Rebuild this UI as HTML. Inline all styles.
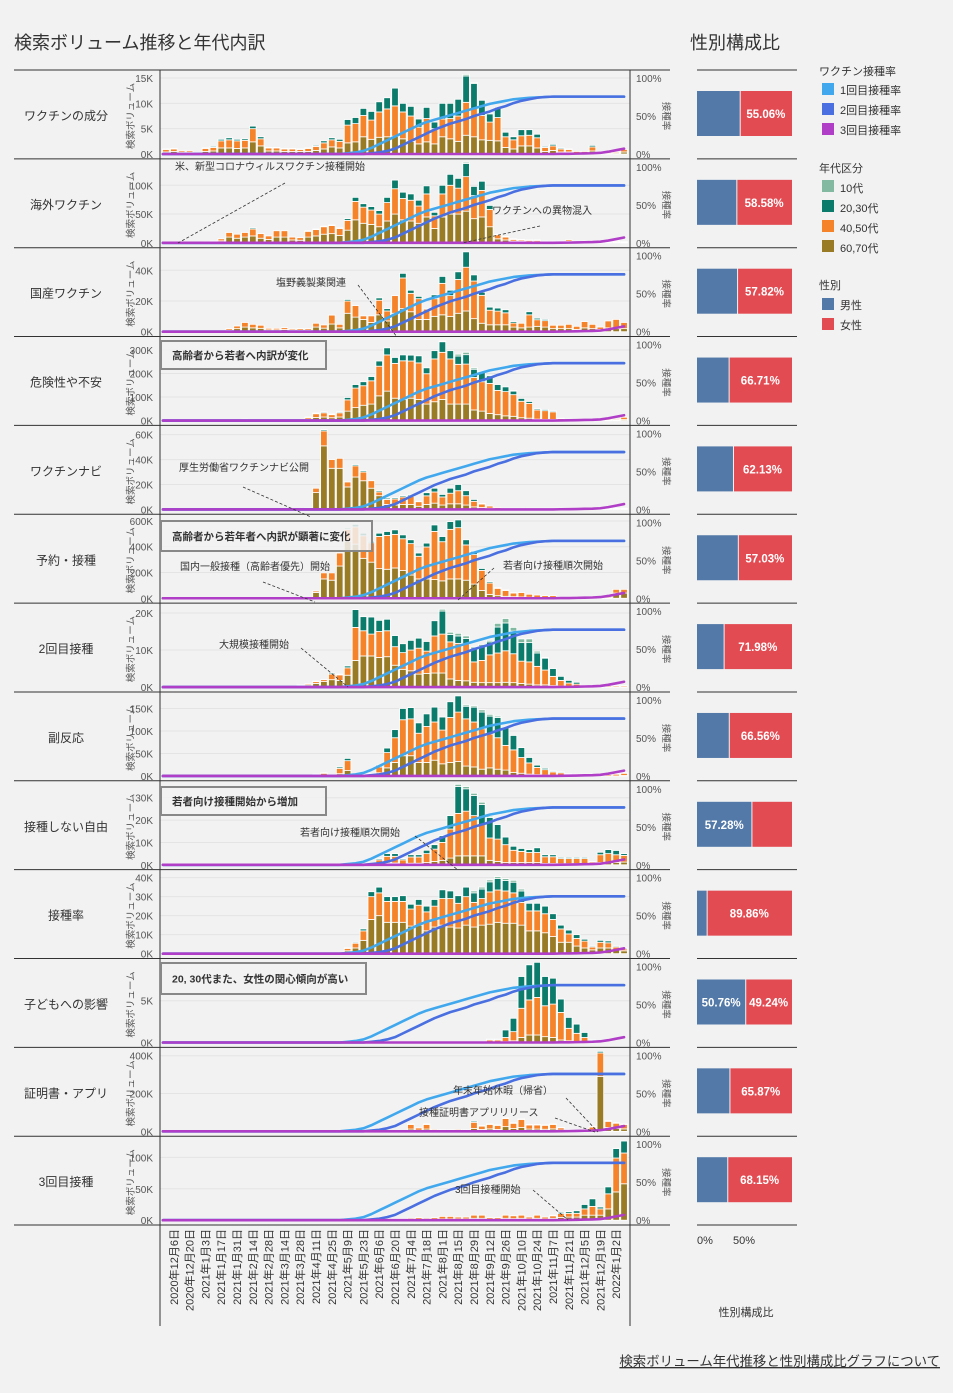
<!DOCTYPE html>
<html><head><meta charset="utf-8">
<style>
html,body{margin:0;padding:0;background:#f2f2f2;}
svg{display:block;font-family:"Liberation Sans","Noto Sans CJK JP",sans-serif;}
</style></head>
<body>
<svg id="chart" width="953" height="1393" viewBox="0 0 953 1393" xmlns="http://www.w3.org/2000/svg">
<rect x="0" y="0" width="953" height="1393" fill="#f2f2f2"/>
<text x="14" y="49" font-size="18" fill="#333">検索ボリューム推移と年代内訳</text>
<text x="690" y="49" font-size="18" fill="#333">性別構成比</text>
<g id="layer"></g>
<g font-size="11" fill="#333">
<text x="819" y="75">ワクチン接種率</text>
<rect x="822" y="83" width="12" height="12" fill="#41a8ee"/><text x="840" y="94">1回目接種率</text>
<rect x="822" y="103" width="12" height="12" fill="#4a6fe0"/><text x="840" y="114">2回目接種率</text>
<rect x="822" y="123" width="12" height="12" fill="#b03ec6"/><text x="840" y="134">3回目接種率</text>
<text x="819" y="172">年代区分</text>
<rect x="822" y="180" width="12" height="12" fill="#82b9a0"/><text x="840" y="192">10代</text>
<rect x="822" y="200" width="12" height="12" fill="#0b7b6b"/><text x="840" y="212">20,30代</text>
<rect x="822" y="220" width="12" height="12" fill="#f5832a"/><text x="840" y="232">40,50代</text>
<rect x="822" y="240" width="12" height="12" fill="#9a7b25"/><text x="840" y="252">60,70代</text>
<text x="819" y="289">性別</text>
<rect x="822" y="298" width="12" height="12" fill="#5279a8"/><text x="840" y="309">男性</text>
<rect x="822" y="318" width="12" height="12" fill="#e34b52"/><text x="840" y="329">女性</text>
</g>
<text x="697" y="1244" font-size="11" fill="#333">0%</text>
<text x="733" y="1244" font-size="11" fill="#333">50%</text>
<text x="746" y="1316" font-size="11" fill="#333" text-anchor="middle">性別構成比</text>
<text x="940" y="1366" font-size="13.4" fill="#333" text-anchor="end" text-decoration="underline">検索ボリューム年代推移と性別構成比グラフについて</text>
</svg>
<script>
// ---- data ----
const categories = ["ワクチンの成分","海外ワクチン","国産ワクチン","危険性や不安","ワクチンナビ","予約・接種","2回目接種","副反応","接種しない自由","接種率","子どもへの影響","証明書・アプリ","3回目接種"];
const dateLabels = ["2020年12月6日","2020年12月20日","2021年1月3日","2021年1月17日","2021年1月31日","2021年2月14日","2021年2月28日","2021年3月14日","2021年3月28日","2021年4月11日","2021年4月25日","2021年5月9日","2021年5月23日","2021年6月6日","2021年6月20日","2021年7月4日","2021年7月18日","2021年8月1日","2021年8月15日","2021年8月29日","2021年9月12日","2021年9月26日","2021年10月10日","2021年10月24日","2021年11月7日","2021年11月21日","2021年12月5日","2021年12月19日","2022年1月2日"];
const dose1 = [0,0,0,0,0,0,0,0,0,0, 0,0,0,0,0,0,0,0,0,0, 0,0,0,1,2,4,8,13,18,23, 28,33,38,42,45,48,51,54,57,60, 63,66,68,70,72,73,74,74.5,75,75.5, 75.5,75.5,75.5,75.5,75.5,75.5,75.5,75.5,75.5];
const dose2 = [0,0,0,0,0,0,0,0,0,0, 0,0,0,0,0,0,0,0,0,0, 0,0,0,0,0,0,1,2,4,7, 12,17,22,27,32,36,40,43,46,50, 53,56,60,63,67,70,72,74,75,75.5, 75.5,75.5,75.5,75.5,75.5,75.5,75.5,75.5,75.5];
const dose3 = [0,0,0,0,0,0,0,0,0,0, 0,0,0,0,0,0,0,0,0,0, 0,0,0,0,0,0,0,0,0,0, 0,0,0,0,0,0,0,0,0,0, 0,0,0,0,0,0,0,0,0,0, 0.2,0.3,0.5,0.8,1,1.5,3,5,7];
const panelMax = [15,132,49.5,323,61,590,20.5,169,34,40,9.1,402,121];
const panelTicks = [[0,5,10,15],[0,50,100],[0,20,40],[0,100,200,300],[0,20,40,60],[0,200,400,600],[0,10,20],[0,50,100,150],[0,10,20,30],[0,10,20,30,40],[0,5],[0,200,400],[0,50,100]];
const femalePct = [55.06,58.58,57.82,66.71,62.13,57.03,71.98,66.56,42.72,89.86,49.24,65.87,68.15];

const old1=[.4,.5,.3,.3,0,.5,.6,1.2,1.2,1.1, 1.2,2.4,1.6,.6,.6,.5,.5,.5,.5,.7, 1,1.4,1.2,2.2,2.4,3.4,2.9,3.3,3.4,3.5, 3,2.5,2,2.4,2,3.4,3,2.5,3.7,3.4, 2.8,2.7,2.6,1.3,1,1.6,1.6,1.2,.5,.7, .4,.4,.2,.2,.6,.2,.1,.2,.4];
const mid1=[.5,.5,.3,.3,.1,.6,.7,1.4,1.6,1.5, 1.5,2.6,1.4,.6,.6,.5,.5,.4,.6,.8, 1.2,1.4,1.3,3.5,3.6,4.2,3.8,5,5.5,6, 5.3,5,3.3,4.6,3,3.5,4,5,6.5,5.6, 4.8,3.6,4.6,2.1,1.8,2,2.1,2,.8,.9, .6,.5,.3,.3,.8,.3,.2,.2,.5];
const young1=[.1,.1,0,0,0,.1,.2,.3,.4,.3, .3,.5,.4,.1,.1,.1,.1,.1,.1,.2, .4,.4,.4,1.1,1.2,1.4,1.7,2,2.2,3.5, 1.7,1.9,1.6,2.2,1.3,3.1,3,3.3,5.2,4.9, 3,1.6,2,.9,.6,1.2,1.1,.7,.2,.3, .2,.1,0,0,.3,0,0,0,0];
const teen1=[0,0,0,0,0,0,0,0,0,0, 0,0,0,0,0,0,0,0,0,0, 0,0,0,0,0,0,0,0,0,0, 0,0,0,0,0,0,0,0,.3,.2, 0,0,0,0,0,0,0,0,0,0, 0,0,0,0,0,0,0,0,0];

const old2=[.3,.3,0,0,.5,1,1.5,3.5,10,8, 10,12,8,6,10,10,5,4.5,10,12, 15,16,13,22,40,34,32,28,38,50, 40,38,34,45,25,45,50,50,55,42, 45,28,7,5,3,3,2,2,1.5,1.5, 1.5,2.5,1.5,1.5,1.5,1,1,1.5,1];
const mid2=[.2,.2,0,0,.5,1,1.5,3.5,8,7, 8,12,8,6,11,11,5,4.5,10,11, 13,14,12,17,32,28,25,22,32,44, 37,36,30,40,22,40,50,45,60,40, 46,30,7,5,3,2.5,2.5,2.5,1.5,1.5, 1.5,2.5,1.5,1.5,1.5,1,1,1.5,1];
const young2=[0,0,0,0,0,0,0,0,0,0, 0,2,0,0,0,0,0,0,1,1, 1,1,1,3,7,6,6,6,9,15, 11,11,10,14,6,15,19,17,23,16, 16,7,1,1,1,.5,.5,.5,0,0, 0,0,0,0,0,0,0,.5,0];
const teen2=[0,0,0,0,0,0,0,0,0,0, 0,0,0,0,0,0,0,0,0,0, 0,0,0,0,0,0,0,0,0,0, 0,0,0,0,0,0,0,0,2,0, 0,0,0,0,0,0,0,0,0,0, 0,0,0,0,0,0,0,0,0];

const old3=[0,0,0,0,0,0,0,0,1,2, 3,2.5,2.2,1.2,1.2,1.4,1,1,1,3, 2.3,5,2.5,12,9.5,8,6,11,7,12, 15,13,8,8,10,11,10,12,13.5,8.5, 5.5,4.5,4.5,4.5,3,2.5,3,3.5,3,2, 2,2,1.5,2.5,2,1.5,2.5,2,2];
const mid3=[0,0,0,0,0,0,0,0,1,1.7, 3,2.3,2,1,1,1.2,.8,1,1,2.5, 2.1,5.8,2.3,8,7.5,2.3,4.3,9.5,6.5,11.5, 20,12,13.5,6.7,11.5,20.5,13.5,22,28.5,24.5, 18.2,9.5,8.9,7.8,2.6,3,8,4.3,4.2,2.2, 2.2,2.8,2,4.1,2.8,1.5,4.5,6,4];
const young3=[0,0,0,0,0,0,0,0,0,0, 0,0,0,0,0,0,0,0,0,0, 0,0,0,1,0,0,0,1.5,1.5,0, 3,2,1.5,0,2.5,4.5,3.5,5,10,4, 2,2,2,2,1,0,2,1,.8,0, 0,0,0,0,0,0,0,0,0];
const teen3=[0,0,0,0,0,0,0,0,0,0, 0,0,0,0,0,0,0,0,0,0, 0,0,0,0,0,0,0,0,0,0, 0,0,0,0,0,0,0,0,0,0, 0,0,0,0,0,0,0,0,0,0, 0,0,0,0,0,0,0,0,0];

const old4=[0,0,0,0,0,0,0,0,0,0, 0,0,0,0,0,0,0,1,6,13, 15,12,15,40,55,65,70,105,125,95, 90,95,90,70,80,90,70,70,70,45, 40,30,25,20,18,12,10,6,5,5, 2,1,1,1,1,1,1,1,4];
const mid4=[0,0,0,0,0,0,0,0,0,0, 6,0,0,0,0,0,0,2,7,16, 18,13,18,48,83,83,99,126,154,148, 164,158,155,129,182,200,192,169,170,138, 125,128,103,103,92,70,63,39,37,32, 7,5,4,4,4,4,4,4,10];
const young4=[0,0,0,0,0,0,0,0,0,0, 0,0,0,0,0,0,0,0,2,3, 4,3,4,10,15,17,18,22,30,25, 25,25,30,25,35,45,35,35,40,35, 40,32,25,20,15,12,8,5,5,4, 1,0,0,0,0,0,0,0,0];
const teen4=[0,0,0,0,0,0,0,0,0,0, 0,0,0,0,0,0,0,0,0,0, 0,0,0,0,0,0,0,0,0,0, 0,0,0,0,0,3,0,8,10,6, 4,0,0,0,3,0,0,0,0,0, 0,0,0,0,0,0,0,0,0];

const old5=[0,0,0,0,0,0,0,0,0,0, 0,0,0,0,0,0,0,0,.8,13.5, 51,33,33,18,26,23,17,11,4,3.5, 4,4,2.5,4,5,3.5,4.5,4.5,3.5,2, 1.5,1,.5,.5,.5,.5,.5,.5,.5,.5, .5,.5,.5,.5,.5,.5,.5,.5,.5];
const mid5=[0,0,0,0,0,0,0,0,0,0, 0,0,0,0,0,0,0,.5,.2,3.5, 12,7,8,4,9,7,6,3,4,4.9, 6,6.5,3.7,6.9,9,6.5,8.5,10.5,7.5,4.5, 2.8,1.7,1,.5,.5,.5,.5,.5,.5,.5, .5,.5,.5,.5,.5,.5,.5,.5,.5];
const young5=[0,0,0,0,0,0,0,0,0,0, 0,0,0,0,0,0,0,0,0,0, 1,0,0,0,1,1,0,1,1,1, 1,1,.5,2.5,3,2,4,5,4,1.5, .5,0,0,0,0,0,0,0,0,0, 0,0,0,0,0,0,0,0,0];
const teen5=[0,0,0,0,0,0,0,0,0,0, 0,0,0,0,0,0,0,0,0,0, 0,0,0,0,0,0,0,0,0,0, 0,0,0,0,0,0,0,0,0,0, 0,0,0,0,0,0,0,0,0,0, 0,0,0,0,0,0,0,0,0];

const old6=[0,0,0,0,0,0,0,0,0,0, 0,0,0,0,0,0,0,0,0,45, 150,140,250,440,420,310,280,230,225,235, 215,180,150,150,145,135,150,150,140,110, 60,30,20,15,12,10,8,6,5,5, 2,2,2,2,2,2,2,40,40];
const mid6=[0,0,0,0,0,0,0,0,0,0, 0,0,0,0,0,0,0,0,2,11, 47,57,101,94,134,175,151,250,263,261, 247,244,176,248,374,304,385,398,274,229, 156,88,57,46,29,34,23,19,15,15, 8,8,8,8,8,8,8,29,29];
const young6=[0,0,0,0,0,0,0,0,0,0, 0,0,0,0,0,0,0,0,0,0, 0,0,0,10,20,20,10,25,30,35, 30,30,25,30,50,40,60,60,40,25, 15,10,5,3,3,0,0,0,0,0, 0,0,0,0,0,0,0,0,0];
const teen6=[0,0,0,0,0,0,0,0,0,0, 0,0,0,0,0,0,0,0,0,0, 0,0,0,0,0,0,0,0,0,0, 0,0,0,0,0,0,0,0,0,0, 0,0,0,0,0,0,0,0,0,0, 0,0,0,0,0,0,0,0,0];

const old7=[0,0,0,0,0,0,0,0,0,0, 0,0,0,0,0,0,0,.4,.6,1, 1.5,2,1.8,3.2,7.2,8.4,8.4,8,8.2,5.9, 4.8,4.4,3.5,3.7,3.8,3.8,2.2,1.8,1.7,1.3, 1.2,1.2,1.2,1.3,1.2,1,.8,.6,.6,.4, .3,.2,.1,.1,.1,.1,.1,.1,.1];
const mid7=[0,0,0,0,0,0,0,0,0,0, 0,0,0,0,0,0,0,.2,.3,.5, .5,1.5,1.5,2,8.9,6.8,5.9,7,7,5, 4.5,5.6,7,6,10,10.5,10,10,10,5.5, 6,7.5,8,8.5,7.8,6,6,5,4,2.5, 1.5,.9,.7,.3,.3,.3,.3,.3,.3];
const young7=[0,0,0,0,0,0,0,0,0,0, 0,0,0,0,0,0,0,0,0,.1, 0,.3,.2,.5,4.8,3.8,4.6,3,3.1,3, 2.4,2.6,2.7,2.6,4.1,6.2,2,2,1.4,3.5, 3.8,3.5,7,7.5,6.1,5,5.2,3.6,3.2,2.1, 1.1,.7,.5,0,0,0,0,0,0];
const teen7=[0,0,0,0,0,0,0,0,0,0, 0,0,0,0,0,0,0,0,0,0, 0,0,0,0,0,0,0,0,0,0, 0,0,0,0,0,.5,.6,.7,.7,.5, .5,.4,1,1.2,1,1,1,.5,.2,0, 0,0,0,0,0,0,0,0,0];

const old8=[0,0,0,0,0,0,0,0,0,0, 0,0,0,0,0,0,0,0,0,1, 2,1,5,12,1,1,1,7,18,30, 45,45,30,30,35,27,30,32,22,20, 15,18,15,13,8,6,4,3,2,1, 1,0,0,0,0,0,0,0,1];
const mid8=[0,0,0,0,0,0,0,0,0,0, 0,0,0,0,0,0,0,0,0,2.5, 4,2,12,22,2,2,3,13,34,55, 80,82,65,80,85,75,100,110,105,100, 90,75,70,55,50,35,25,16,12,8, 6,4,3,3,3,3,3,4,5];
const young8=[0,0,0,0,0,0,0,0,0,0, 0,0,0,0,0,0,0,0,0,.5, 1,0,3,5,0,0,1,4,10,18, 25,25,23,28,33,29,35,36,28,33, 37,40,45,40,32,22,12,5,3,2, 2,1,1,1,1,1,1,1,1];
const teen8=[0,0,0,0,0,0,0,0,0,0, 0,0,0,0,0,0,0,0,0,0, 0,0,0,0,0,0,0,0,0,0, 0,0,0,0,0,0,0,0,3,3, 5,4,3,0,0,0,0,0,0,0, 0,0,0,0,0,0,0,0,0];

const old9=[0,0,0,0,0,0,0,0,0,0, 0,0,0,0,0,0,0,0,0,0, 0,0,0,0,0,0,.2,.5,.8,.8, .4,.7,.7,1,1.5,2,3,4,4,4, 4,2,1.5,1,1,1,1,1,.6,.6, .5,.5,.5,.5,.3,1,1,1,1.2];
const mid9=[0,0,0,0,0,0,0,0,0,0, 0,0,0,0,0,0,0,0,0,0, 0,0,0,0,0,0,.4,1.7,3,3, 1.8,2.8,2.8,4,5.5,8,13,19,20,18, 14,10,10,8,5.5,5,4.5,4.5,3,3, 2.3,2.3,2.3,2.3,1,3.5,4,3.5,3];
const young9=[0,0,0,0,0,0,0,0,0,0, 0,0,0,0,0,0,0,0,0,0, 0,0,0,0,0,0,.1,.5,1.2,1.2, .5,1,1,1.5,2,3,6,12,10,9, 9,9.2,6.5,3.4,1.8,1.3,1.3,2.1,.9,.9, .5,.5,.5,.5,.2,1.1,1.8,1.9,.8];
const teen9=[0,0,0,0,0,0,0,0,0,0, 0,0,0,0,0,0,0,0,0,0, 0,0,0,0,0,0,0,0,0,0, 0,0,0,0,0,0,0,1,1,1, 1,.5,0,0,0,0,0,0,0,0, 0,0,0,0,0,0,0,0,0];

const old10=[0,0,0,0,0,0,0,0,0,0, 0,0,0,0,0,0,0,0,0,0, 0,0,0,1.5,3,7,18,20,16.5,16.5, 16.5,14.5,15,12,14,15,14,13.5,15,14, 15,15.5,16.5,16,16,15,12,12,11,9, 6,6,4,3,2,3,3,2,1.5];
const mid10=[0,0,0,0,0,0,0,0,0,0, 0,0,0,0,0,0,0,0,0,0, 0,0,0,1.3,2.5,5,12,12,11,11, 11,9,10.5,10,11,14,15,13,15,13, 14,17,17,17,16,12,10.5,10.5,10,9, 7,4.4,4,3.6,1.5,3,2.7,1.5,1];
const young10=[0,0,0,0,0,0,0,0,0,0, 0,0,0,0,0,0,0,0,0,0, 0,0,0,.2,.5,1,2.6,3,2.5,2.5, 3,2.5,3,3,3.5,4.6,4,4,5,5, 5,5.3,6,5.5,5.6,6,4,4,4,3, 2,2,2,1,.5,1,1,.5,.5];
const teen10=[0,0,0,0,0,0,0,0,0,0, 0,0,0,0,0,0,0,0,0,0, 0,0,0,0,0,0,0,0,0,0, 0,0,0,0,0,0,0,0,0,1, 1,1,1,1,1,1,0,0,0,0, 0,0,0,0,0,0,0,0,0];

const old11=[0,0,0,0,0,0,0,0,0,0, 0,0,0,0,0,0,0,0,0,0, 0,0,0,0,0,0,0,0,0,0, 0,0,0,0,0,0,0,0,0,0, 0,0,0,.1,.2,.6,.9,.9,.7,.6, .3,.2,.1,.1,0,0,0,0,0];
const mid11=[0,0,0,0,0,0,0,0,0,0, 0,0,0,0,0,0,0,0,0,0, 0,0,0,0,0,0,0,0,0,0, 0,0,0,0,0,0,0,0,0,0, 0,.3,.3,.5,1.1,3.5,4.2,4.5,3.7,4, 3.3,1.5,1,.5,.2,0,0,0,0];
const young11=[0,0,0,0,0,0,0,0,0,0, 0,0,0,0,0,0,0,0,0,0, 0,0,0,0,0,0,0,0,0,0, 0,0,0,0,0,0,0,0,0,0, 0,.1,.1,.9,1.6,3.8,4.2,4.2,3.5,3.1, 1.6,1.3,1.1,.6,.1,0,0,0,0];
const teen11=[0,0,0,0,0,0,0,0,0,0, 0,0,0,0,0,0,0,0,0,0, 0,0,0,0,0,0,0,0,0,0, 0,0,0,0,0,0,0,0,0,0, 0,0,0,0,0,0,0,0,0,0, 0,0,0,0,0,0,0,0,0];

const old12=[0,0,0,0,0,0,0,0,0,0, 0,0,0,0,0,0,0,0,0,0, 0,0,0,0,0,0,1,1,0,0, 0,12,6,12,3,3,3,3,3,15, 10,13,10,25,15,20,12,12,11,13, 7,3,3,3,8,290,20,15,13];
const mid12=[0,0,0,0,0,0,0,0,0,0, 0,0,0,0,0,0,0,0,0,0, 0,0,0,0,0,0,2,2,0,0, 0,25,12,25,7,5,5,7,5,33, 19,25,22,43,28,43,23,23,22,24, 13,5,5,7,16,125,33,28,24];
const young12=[0,0,0,0,0,0,0,0,0,0, 0,0,0,0,0,0,0,0,0,0, 0,0,0,0,0,0,0,0,0,0, 0,2,0,2,0,0,0,0,0,6, 1,1,2,3,2,3,1,1,1,2, 1,0,0,0,1,8,4,3,2];
const teen12=[0,0,0,0,0,0,0,0,0,0, 0,0,0,0,0,0,0,0,0,0, 0,0,0,0,0,0,0,0,0,0, 0,0,0,0,0,0,0,0,0,0, 0,0,0,0,0,0,0,0,0,0, 0,0,0,0,0,0,0,0,0];

const old13=[0,0,0,0,0,0,0,0,0,0, 0,0,0,0,0,0,0,0,0,0, 0,0,0,0,0,0,0,0,0,.7, .7,1,1.5,1,1.5,2,2,2,2,3, 3,1.5,1.5,3,2.5,3,2,3,2,3, 4.5,5,5,8,8,8,18,45,58];
const mid13=[0,0,0,0,0,0,0,0,0,0, 0,0,0,0,0,0,0,0,0,0, 0,0,0,0,0,0,0,0,0,1.3, 1.3,2,2.5,2,2.5,4,4,3,3,5, 5,2.5,2.5,5,4.5,5,3,5,3,4, 6,6,6,10,14,10,24,54,49];
const young13=[0,0,0,0,0,0,0,0,0,0, 0,0,0,0,0,0,0,0,0,0, 0,0,0,0,0,0,0,0,0,0, 0,0,0,0,0,0,0,0,0,0, 0,0,0,0,0,0,0,0,0,1, 2,2.6,4,7,12,3,11,15,19];
const teen13=[0,0,0,0,0,0,0,0,0,0, 0,0,0,0,0,0,0,0,0,0, 0,0,0,0,0,0,0,0,0,0, 0,0,0,0,0,0,0,0,0,0, 0,0,0,0,0,0,0,0,0,0, 0,0,0,0,0,0,0,0,0];

const oldSeries=[old1,old2,old3,old4,old5,old6,old7,old8,old9,old10,old11,old12,old13];
const midSeries=[mid1,mid2,mid3,mid4,mid5,mid6,mid7,mid8,mid9,mid10,mid11,mid12,mid13];
const youngSeries=[young1,young2,young3,young4,young5,young6,young7,young8,young9,young10,young11,young12,young13];
const teenSeries=[teen1,teen2,teen3,teen4,teen5,teen6,teen7,teen8,teen9,teen10,teen11,teen12,teen13];

// ---- drawing ----
const NS="http://www.w3.org/2000/svg";
const layer=document.getElementById('layer');
function mk(tag,attrs,parent){const e=document.createElementNS(NS,tag);for(const k in attrs)e.setAttribute(k,attrs[k]);(parent||layer).appendChild(e);return e;}
const NW=dose1.length;
const X0=162, X1=628, STEP=(X1-X0)/NW;
function xCenter(i){return X0+STEP*(i+0.5);}
const PH=88.85;
function panelTop(k){return 70+k*PH;}
function yVal(k,v){return panelTop(k)+84-v/panelMax[k]*76;}
function yRate(k,r){return panelTop(k)+84-r/100*76;}
const colors={old:"#9a7b25",mid:"#f5832a",young:"#0b7b6b",teen:"#82b9a0"};

for(let k=0;k<categories.length;k++){
  const T=panelTop(k);
  const g=mk('g',{});
  
  
  panelTicks[k].forEach(t=>{
    const y=yVal(k,t);
    if(t>0){const gl=mk('line',{x1:160,x2:630,y1:y,y2:y,stroke:'#e4e4e4','stroke-width':1},g);
      
      }
    const tl=mk('text',{x:153,y:y+4,'font-size':10,fill:'#555','text-anchor':'end'},g);
    tl.textContent=t+'K';
    
    
  });
  const cl=mk('text',{x:66,y:T+50,'font-size':12,fill:'#333','text-anchor':'middle'},g);
  cl.textContent=categories[k];
  
  
  const yt=mk('text',{x:0,y:0,'font-size':9.5,fill:'#555','text-anchor':'middle',transform:`translate(134,${T+46}) rotate(-90)`},g);
  yt.textContent='検索ボリューム';
  
  
  const rt=mk('text',{x:0,y:0,'font-size':9.5,fill:'#555','text-anchor':'middle',transform:`translate(663,${T+46}) rotate(90)`},g);
  rt.textContent='接種率';
  
  
  [[100,'100%'],[50,'50%'],[0,'0%']].forEach(([r,s])=>{
    const t=mk('text',{x:636,y:yRate(k,r)+4,'font-size':10,fill:'#555'},g);
    t.textContent=s;
    
    
  });
  for(let i=0;i<NW;i++){
    let acc=0;
    [['old',oldSeries[k][i]],['mid',midSeries[k][i]],['young',youngSeries[k][i]],['teen',teenSeries[k][i]]].forEach(([n,v])=>{
      if(!v)return;
      const y0=yVal(k,acc), y1=yVal(k,acc+v);
      const r=mk('rect',{x:xCenter(i)-3.3,y:y1,width:6.6,height:Math.max(y0-y1,0.5),fill:colors[n],stroke:'#fff','stroke-width':0.8},g);
      
      
      acc+=v;
    });
  }
  [[dose1,'#41a8ee','dose1'],[dose2,'#4a6fe0','dose2'],[dose3,'#b03ec6','dose3']].forEach(([arr,c,n])=>{
    const pts=[xCenter(0)-3+','+yRate(k,arr[0])];
    arr.forEach((r,i)=>pts.push(xCenter(i)+','+yRate(k,r)));
    const pl=mk('polyline',{points:pts.join(' '),fill:'none',stroke:c,'stroke-width':2.6,'stroke-linejoin':'round','stroke-linecap':'round'},g);
    
    
  });
  const f=femalePct[k], mw=(100-f)/100*95;
  const mr=mk('rect',{x:697,y:T+21,width:mw,height:45,fill:'#5279a8'},g);
  
  
  const fr=mk('rect',{x:697+mw+1,y:T+21,width:95-mw-1,height:45,fill:'#e34b52'},g);
  
  
  if(f>=50||k===10){
    const ft=mk('text',{x:697+mw+(95-mw)/2,y:T+48,'font-size':11.5,'font-weight':'bold',fill:'#fff','text-anchor':'middle'},g);
    ft.textContent=f.toFixed(2)+'%';
    
    
  }
  if(f<50){
    const mt=mk('text',{x:697+mw/2,y:T+48,'font-size':11.5,'font-weight':'bold',fill:'#fff','text-anchor':'middle'},g);
    mt.textContent=(100-f).toFixed(2)+'%';
    
    
  }
}
for(let k=0;k<=categories.length;k++){
  const y=panelTop(k);
  const s=mk('line',{x1:14,x2:670,y1:y,y2:y,stroke:'#333','stroke-width':1});
  
  
  const s2=mk('line',{x1:697,x2:797,y1:y,y2:y,stroke:'#333','stroke-width':1});
  
  
}
[160,630].forEach(x=>{
  const l=mk('line',{x1:x,x2:x,y1:70,y2:1326,stroke:'#333','stroke-width':1});
  
  
});
dateLabels.forEach((s,j)=>{
  const x=xCenter(2*j+1)+4;
  const t=mk('text',{x:0,y:0,'font-size':11,fill:'#333','text-anchor':'end',transform:`translate(${x},1229) rotate(-90)`});
  t.textContent=s;
  
  
});
const notes=[
 {t:'米、新型コロナウィルスワクチン接種開始',x:175,y:170,l:[285,183,178,243]},
 {t:'ワクチンへの異物混入',x:492,y:214,l:[540,226,462,243]},
 {t:'塩野義製薬関連',x:276,y:286,l:[358,285,397,337]},
 {t:'厚生労働省ワクチンナビ公開',x:179,y:471,l:[243,487,311,517]},
 {t:'国内一般接種（高齢者優先）開始',x:180,y:570,l:[263,582,315,602]},
 {t:'若者向け接種順次開始',x:503,y:569,l:[494,568,458,600]},
 {t:'大規模接種開始',x:219,y:648,l:[301,648,348,687]},
 {t:'若者向け接種順次開始',x:300,y:836,l:[415,836,458,870]},
 {t:'年末年始休暇（帰省）',x:453,y:1094,l:[566,1098,598,1132]},
 {t:'接種証明書アプリリリース',x:419,y:1116,l:[555,1118,595,1132]},
 {t:'3回目接種開始',x:455,y:1193,l:[533,1190,568,1220]}
];
notes.forEach(n=>{
  const ln=mk('line',{x1:n.l[0],y1:n.l[1],x2:n.l[2],y2:n.l[3],stroke:'#333','stroke-width':0.8,'stroke-dasharray':'3,2'});
  
  
  const t=mk('text',{x:n.x,y:n.y,'font-size':10,fill:'#333'});
  t.textContent=n.t;
  
  
});
const boxes=[
 {t:'高齢者から若者へ内訳が変化',x:160,y:341,w:165,h:28},
 {t:'高齢者から若年者へ内訳が顕著に変化',x:160,y:521,w:211,h:30},
 {t:'若者向け接種開始から増加',x:160,y:787,w:165,h:28},
 {t:'20, 30代また、女性の関心傾向が高い',x:160,y:963,w:205,h:31}
];
boxes.forEach(b=>{
  const r=mk('rect',{x:b.x+1,y:b.y,width:b.w,height:b.h,fill:'#f2f2f2','fill-opacity':0.85,stroke:'#888','stroke-width':2});
  
  
  const t=mk('text',{x:b.x+12,y:b.y+b.h/2+4,'font-size':10.5,'font-weight':'bold',fill:'#333'});
  t.textContent=b.t;
  
  
});
</script>
</body></html>
